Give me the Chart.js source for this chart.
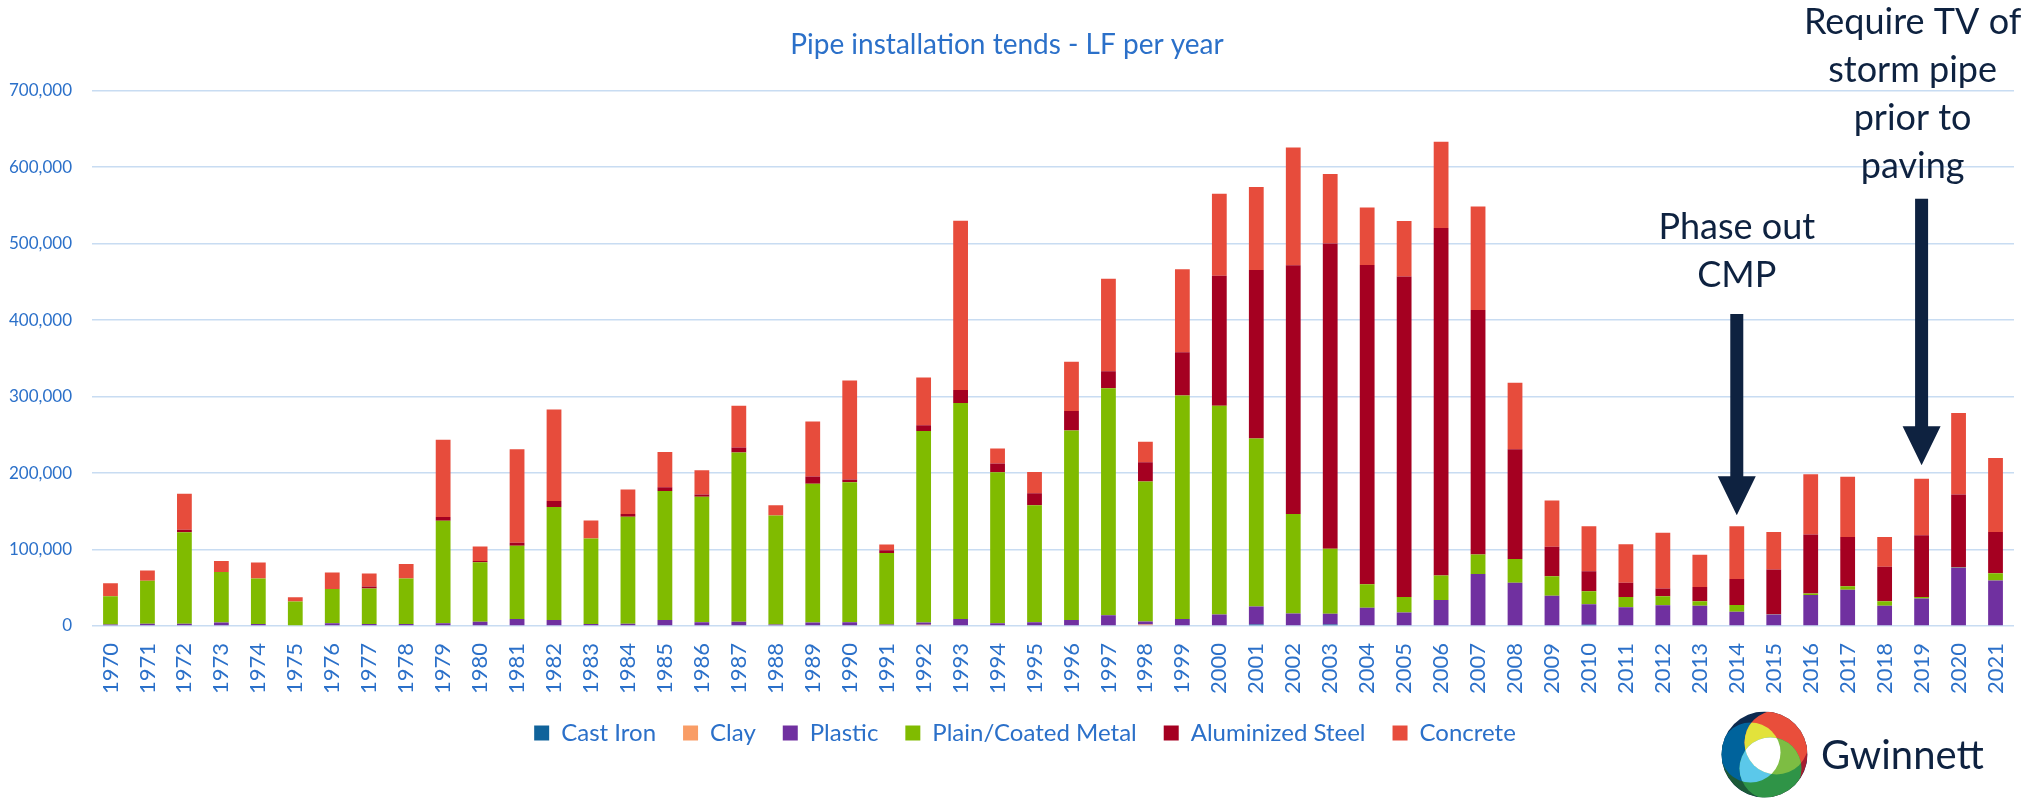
<!DOCTYPE html>
<html>
<head>
<meta charset="utf-8">
<title>Pipe installation tends - LF per year</title>
<script src="https://cdn.jsdelivr.net/npm/chart.js@4"></script>
<style>
  html, body { margin: 0; padding: 0; background: #fff; }
  #wrap { position: relative; width: 2028px; height: 801px; }
</style>
</head>
<body>
<div id="wrap"><canvas id="pipeChart"></canvas></div>
<script>
// ---- DATA (LF installed per year) ----
const years = ['1970','1971','1972','1973','1974','1975','1976','1977','1978','1979',
  '1980','1981','1982','1983','1984','1985','1986','1987','1988','1989',
  '1990','1991','1992','1993','1994','1995','1996','1997','1998','1999',
  '2000','2001','2002','2003','2004','2005','2006','2007','2008','2009',
  '2010','2011','2012','2013','2014','2015','2016','2017','2018','2019',
  '2020','2021'];

const castIron = [0,0,0,0,0,0,0,0,0,0, 0,0,0,0,0,0,0,0,0,0,
  0,0,0,0,0,0,0,0,0,0, 0,2000,0,2000,0,0,0,0,0,0, 1500,0,0,0,0,0,0,0,0,0, 0,0];

const clay = [1000,0,0,0,0,0,0,0,0,0, 0,0,0,1000,0,0,0,0,0,0,
  0,0,1500,0,0,0,0,0,2000,0, 0,0,0,0,0,0,0,1000,0,0, 0,0,0,0,0,0,0,0,0,0, 0,0];

const plastic = [1000,3000,3000,4500,2500,1000,3500,2500,2500,3500,
  5500,9000,8000,1500,3000,8000,5000,5500,2000,4500,
  5000,2000,3000,9000,3500,5000,8000,14000,4000,9000,
  15000,23500,16500,14000,24000,17500,34000,67000,56500,39500,
  27000,24500,27000,26500,18500,15000,40500,47500,26500,36000,
  76500,59500];

const coatedMetal = [37000,56000,119500,66000,59500,31000,45000,46500,59500,134000,
  78000,96000,147500,112000,140000,168500,164000,221500,142500,181500,
  183000,93500,250500,282500,197500,153000,247500,297000,183000,292500,
  273000,219500,130000,85000,30500,20500,32000,25500,31000,25500,
  17000,13500,12000,6000,9000,500,2000,4500,6000,2000,
  500,9500];

const aluminizedSteel = [0,0,3500,0,0,0,0,2500,0,5000,
  1500,4000,8000,0,3500,5000,3000,6500,0,9500,
  3500,3500,7500,17000,11500,15500,25500,22000,25000,56500,
  170000,220500,325000,399000,417500,419000,454500,319500,143500,38500,
  26000,18500,10000,18500,34000,58500,77000,64500,45000,80500,
  95000,54000];

const concrete = [17000,13500,47000,14500,21000,5500,21500,17000,19000,101000,
  19000,122000,119500,23500,32000,46000,31500,54500,13500,72000,
  129500,7500,62500,221500,19500,28000,64500,121000,27000,108500,
  107000,108500,154000,91000,75000,72500,112500,135500,87000,60500,
  59000,50500,73000,42000,69000,49000,79000,78500,39000,74000,
  106500,96500];

const yTicks = [0, 100000, 200000, 300000, 400000, 500000, 600000, 700000];

// ---- ANNOTATIONS (callouts above two years) ----
const callouts = [
  { year: '2014', lines: ['Phase out', 'CMP'], firstBaseline: 505600, dx: 0, arrowFrom: 407800, arrowTo: 144800 },
  { year: '2019', lines: ['Require TV of', 'storm pipe', 'prior to', 'paving'], firstBaseline: 774200, dx: -9, arrowFrom: 558700, arrowTo: 210300 }
];

const BLUE_TEXT = '#2B70C9';
const NAVY = '#0E2240';

// year labels, rotated to read upward, hanging below the zero line
const yearLabelPlugin = {
  id: 'yearLabels',
  afterDraw(chart) {
    const ctx = chart.ctx;
    const xs = chart.scales.x;
    const y0 = chart.chartArea.bottom + 17;
    ctx.save();
    ctx.fillStyle = BLUE_TEXT;
    ctx.font = '22px Lato';
    ctx.textAlign = 'right';
    ctx.textBaseline = 'middle';
    years.forEach((yr, i) => {
      ctx.save();
      ctx.translate(xs.getPixelForValue(i), y0);
      ctx.rotate(-Math.PI / 2);
      ctx.fillText(yr, 0, 0);
      ctx.restore();
    });
    ctx.restore();
  }
};

const calloutPlugin = {
  id: 'callouts',
  afterDatasetsDraw(chart) {
    const ctx = chart.ctx;
    const xs = chart.scales.x;
    const ys = chart.scales.y;
    ctx.save();
    callouts.forEach(c => {
      const x = xs.getPixelForValue(years.indexOf(c.year));
      ctx.fillStyle = NAVY;
      ctx.font = '36px Lato';
      ctx.textAlign = 'center';
      ctx.textBaseline = 'alphabetic';
      const y0 = ys.getPixelForValue(c.firstBaseline);
      c.lines.forEach((t, i) => ctx.fillText(t, x + c.dx, y0 + i * 48));
      // arrow
      const top = ys.getPixelForValue(c.arrowFrom);
      const tip = ys.getPixelForValue(c.arrowTo);
      const headLen = 39, headW = 19, shaftW = 6.5;
      ctx.beginPath();
      ctx.moveTo(x - shaftW, top);
      ctx.lineTo(x + shaftW, top);
      ctx.lineTo(x + shaftW, tip - headLen);
      ctx.lineTo(x + headW, tip - headLen);
      ctx.lineTo(x, tip);
      ctx.lineTo(x - headW, tip - headLen);
      ctx.lineTo(x - shaftW, tip - headLen);
      ctx.closePath();
      ctx.fill();
    });
    ctx.restore();
  }
};

// nudge the legend row to where it sits in the original slide
const legendShift = {
  id: 'legendShift',
  afterLayout(chart) {
    if (chart.legend) {
      chart.legend.left += 18;
      chart.legend.right += 18;
    }
  }
};

// Gwinnett logo, bottom right
const logoPlugin = {
  id: 'logo',
  afterDraw(chart) {
    const ctx = chart.ctx;
    const cx = 1764.5, cy = 754.5, R = 43;
    const circ = (x, y, r) => { ctx.beginPath(); ctx.arc(cx + x, cy + y, r, 0, Math.PI * 2); };
    ctx.save();
    circ(0, 0, R);
    ctx.clip();
    ctx.fillStyle = '#0D2A4F';
    ctx.fillRect(cx - R, cy - R, 2 * R, 2 * R);
    ctx.fillStyle = '#A51D30';
    ctx.beginPath(); ctx.moveTo(cx, cy); ctx.arc(cx, cy, R, -0.3, 1.4); ctx.closePath(); ctx.fill();
    ctx.fillStyle = '#1C5A38';
    ctx.beginPath(); ctx.moveTo(cx, cy); ctx.arc(cx, cy, R, 1.6, 3.4); ctx.closePath(); ctx.fill();

    const blue = [-14, -2, 30], red = [12, -12, 32], green = [6, 14, 31];
    const fillC = (c, col) => { ctx.fillStyle = col; circ(c[0], c[1], c[2]); ctx.fill(); };
    fillC(blue, '#00639C');
    fillC(red, '#E94E3B');
    fillC(green, '#2F9447');
    ctx.save(); circ(blue[0], blue[1], blue[2]); ctx.clip(); fillC(red, '#E2E23B'); fillC(green, '#5BC8EA'); ctx.restore();
    ctx.save(); circ(red[0], red[1], red[2]); ctx.clip(); fillC(green, '#7DBD43');
    circ(blue[0], blue[1], blue[2]); ctx.clip(); fillC(green, '#FFFFFF'); ctx.restore();
    ctx.restore();

    ctx.save();
    ctx.fillStyle = NAVY;
    ctx.font = '40px Lato';
    ctx.textAlign = 'left';
    ctx.textBaseline = 'alphabetic';
    ctx.fillText('Gwinnett', 1821, 769);
    ctx.restore();
  }
};

function makeSet(label, data, color) {
  return {
    label,
    data,
    backgroundColor: color,
    borderWidth: 0,
    categoryPercentage: 0.4,
    barPercentage: 1.0
  };
}

function initPipeChart() {
  Chart.defaults.font.family = 'Lato, sans-serif';
  Chart.defaults.color = BLUE_TEXT;

  new Chart(document.getElementById('pipeChart'), {
    type: 'bar',
    data: {
      labels: years,
      datasets: [
        makeSet('Cast Iron', castIron, '#10639B'),
        makeSet('Clay', clay, '#F99D66'),
        makeSet('Plastic', plastic, '#7030A0'),
        makeSet('Plain/Coated Metal', coatedMetal, '#80BB00'),
        makeSet('Aluminized Steel', aluminizedSteel, '#A50021'),
        makeSet('Concrete', concrete, '#E74C3C')
      ]
    },
    options: {
      responsive: true,
      maintainAspectRatio: false,
      animation: false,
      layout: { padding: { left: 0, right: 14, top: 0, bottom: 46 } },
      plugins: {
        title: {
          display: true,
          text: 'Pipe installation tends - LF per year',
          color: BLUE_TEXT,
          font: { size: 28, weight: 'normal' },
          padding: { top: 28, bottom: 29 }
        },
        legend: {
          position: 'bottom',
          labels: {
            color: BLUE_TEXT,
            font: { size: 24 },
            boxWidth: 15,
            boxHeight: 15,
            padding: 27
          }
        },
        tooltip: { enabled: false }
      },
      scales: {
        x: {
          stacked: true,
          grid: { display: false },
          border: { display: false },
          ticks: { display: false },
          afterFit(scale) { scale.height = 68; }
        },
        y: {
          stacked: true,
          min: 0,
          max: 700000,
          grid: { color: '#C8DCF2', lineWidth: 1.5, drawTicks: false },
          border: { display: false },
          afterBuildTicks(scale) { scale.ticks = yTicks.map(v => ({ value: v })); },
          ticks: {
            color: BLUE_TEXT,
            font: { size: 17 },
            padding: 20,
            callback: val => val.toLocaleString('en-US')
          },
          afterFit(scale) { scale.width = 92; }
        }
      }
    },
    plugins: [legendShift, yearLabelPlugin, calloutPlugin, logoPlugin]
  });
}

if (document.fonts && document.fonts.load) {
  Promise.all([document.fonts.load('24px Lato'), document.fonts.load('36px Lato')])
    .then(initPipeChart, initPipeChart);
} else {
  initPipeChart();
}
</script>
</body>
</html>
